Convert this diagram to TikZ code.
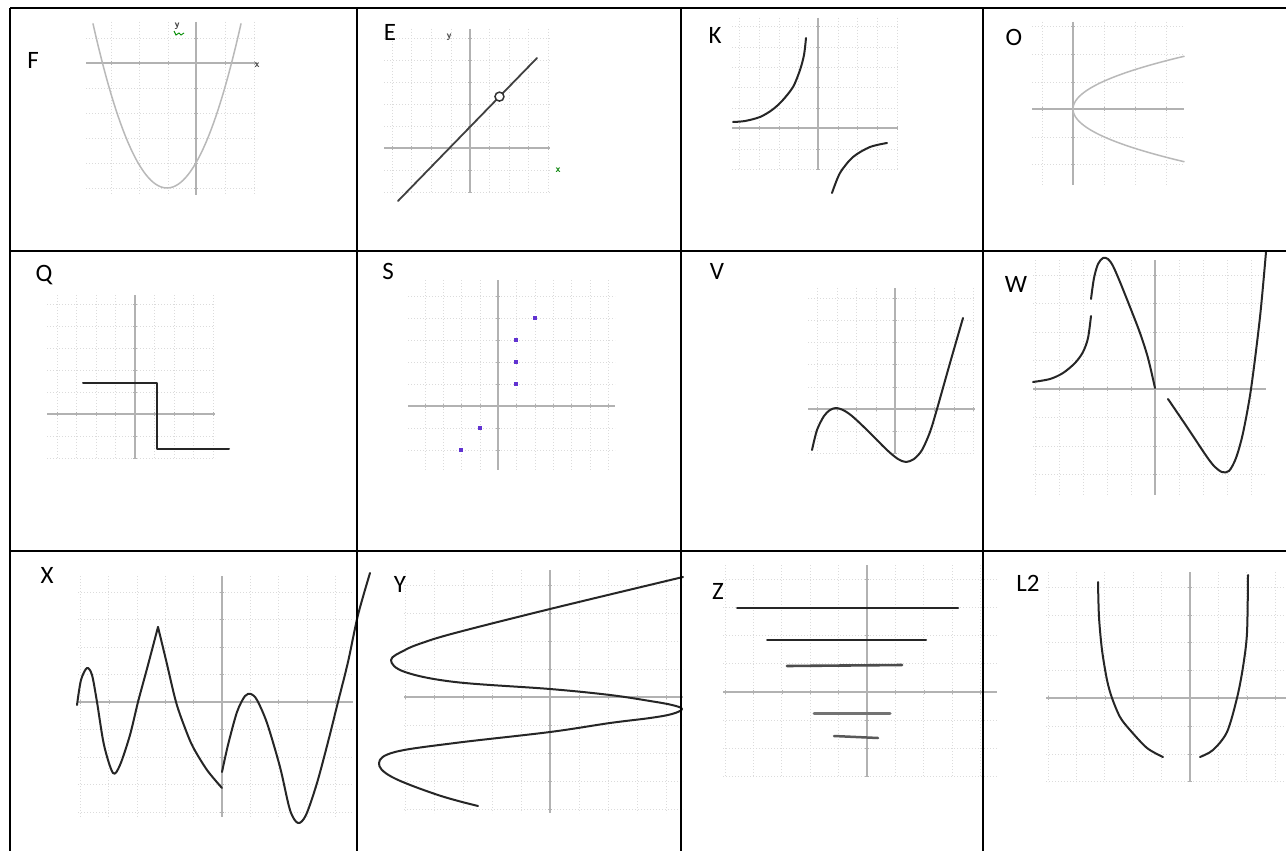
\documentclass[tikz,border=0pt]{standalone}
\usepackage{fontspec}
\newfontfamily\lblfont{Carlito}
\usetikzlibrary{calc}
\newcommand\cellgraph[8]{%
  \foreach \gx in {#7} \draw[gridl] (\gx,#3) -- (\gx,#4);
  \foreach \gy in {#8} \draw[gridl] (#1,\gy) -- (#2,\gy);
  \draw[axisl] (#1,#6) -- (#2,#6);
  \draw[axisl] (#5,#3) -- (#5,#4);
  \foreach \gx in {#7} \draw[tickl] (\gx,{#6-1.8}) -- (\gx,{#6+1.8});
  \foreach \gy in {#8} \draw[tickl] ({#5-1.8},\gy) -- ({#5+1.8},\gy);}
\begin{document}
\begin{tikzpicture}[x=1pt,y=-1pt,
 gridl/.style={gray!28, line width=0.7pt, dash pattern=on 1.2pt off 1.8pt},
 axisl/.style={gray!60, line width=1.1pt},
 tickl/.style={gray!60, line width=0.6pt},
 curve/.style={black!85, line width=2pt, line cap=round, line join=round},
 lightcurve/.style={gray!55, line width=1.5pt, line cap=round},
 tbl/.style={black, line width=2.5pt},
 lbl/.style={font=\lblfont\fontsize{25}{30}\selectfont, inner sep=0pt, text=black},
 axlbl/.style={font=\sffamily\bfseries\fontsize{10}{12}\selectfont, inner sep=0pt},
 dotpt/.style={fill=blue!55!violet!80, minimum size=3.5pt, inner sep=0pt, draw=none, rectangle}]
\useasboundingbox (0,0) rectangle (1286,851);
\fill[white] (0,0) rectangle (1286,851);

% ---------- grids ----------
\cellgraph{86}{257}{22}{195}{196}{63}{111,139,168,225,254}{38,88,113,138,163,188}
\cellgraph{384}{550}{29}{193}{470}{148}{392,411,431,451,489,509,528,548}{38,60,82,104,126,170,192}
\cellgraph{732}{898}{18}{170}{818}{128}{739,759,779,798,838,857,877,897}{26,47,67,87,108,149,169}
\cellgraph{1032}{1184}{22}{185}{1073}{109}{1042,1104,1135,1166}{26,54,82,137,164}
\cellgraph{47}{215}{295}{458}{135}{414}{57,76.5,96,115.5,154.5,174,193.5,213}{304,326,348,370,392,436,458}
\cellgraph{408}{615}{280}{470}{498}{406}{425,443,461,480,516,535,553,571,590,608}{296,318,340,362,384,428,450}
\cellgraph{808}{975}{288}{453}{895}{409}{817,837,856,876,915,934,954,973}{298,320,342,364,387,431,453}
\cellgraph{1033}{1266}{260}{495}{1155}{389}{1035,1059,1083,1107,1131,1179,1203,1227,1251}{275,303.5,332,360.5,417.5,446,474.5}
\cellgraph{78}{353}{576}{817}{222}{702}{80.5,108.8,137,165.4,193.7,250.3,278.6,307,335}{592,619.5,647,674.5,729.5,757,784.5,812}
\cellgraph{404}{683}{570}{813}{550}{697}{405,434,463,492,521,579,608,637,666}{585,613,641,669,725,753,781,809}
\cellgraph{723}{997}{565}{777}{867}{692}{725,753.4,781.8,810.2,838.6,895.4,923.8,952.2,980.6}{579.2,607.4,635.6,663.8,720.2,748.4,776.6}
\cellgraph{1046}{1286}{572}{782}{1190}{698}{1048,1076.4,1104.8,1133.2,1161.6,1218.4,1246.8,1275.2}{587,615,642,670,726,754,781}

% ---------- F ----------
\draw[lightcurve] plot[domain=93:241, samples=60] (\x, {188-0.03*(\x-167)^2});
\node[axlbl, text=black!75] (Fy) at (177,26) {y};
\draw[green!55!black, line width=0.9pt] (174,31) -- (176,35) -- (179,33) -- (181,35) -- (184,33);
\node[axlbl, text=black!75] (Fx) at (257,65) {x};

% ---------- E ----------
\coordinate (ea) at (398,201);
\coordinate (eb) at (537,58);
\draw[curve, line width=1.8pt, black!75] (ea) -- (eb);
\node[circle, draw=black!80, fill=white, line width=1.5pt, minimum size=9pt, inner sep=0pt] (hole) at ($(ea)!0.73!(eb)$) {};
\node[axlbl, text=black!70] (Ey) at (449,37) {y};
\node[axlbl, text=green!50!black] (Ex) at (558,170) {x};

% ---------- K ----------
\draw[curve] plot[smooth] coordinates {(733,122) (745,121) (760,117) (772,110) (782,101) (793,87) (800,70) (804,55) (806,38)};
\draw[curve] plot[smooth] coordinates {(832,193) (840,173) (853,157) (870,147) (887,143)};

% ---------- O ----------
\draw[lightcurve] plot[domain=-10.54:10.54, samples=80] ({1073+\x*\x}, {109+5*\x});

% ---------- Q ----------
\draw[curve] (83,383) -- (157,383) -- (157,449) -- (229,449);

% ---------- S ----------
\node[dotpt] (s1) at (535,318) {};
\node[dotpt] (s2) at (516,340) {};
\node[dotpt] (s3) at (516,362) {};
\node[dotpt] (s4) at (516,384) {};
\node[dotpt] (s5) at (480,428) {};
\node[dotpt] (s6) at (461,450) {};

% ---------- V ----------
\draw[curve] plot[smooth] coordinates {(812,450) (817,430) (824,416) (830,410) (836,408) (843,410) (852,416) (867,430) (887,450) (898,459) (906,462) (914,459) (922,450) (930,432) (937,409) (950,363) (963,318)};

% ---------- W ----------
\draw[curve] plot[smooth] coordinates {(1033,382) (1050,379) (1063,373) (1075,363) (1083,352) (1088,338) (1091,316)};
\draw[curve] plot[smooth] coordinates {(1091,299) (1094,278) (1098,264) (1103,258) (1108,259) (1113,266) (1120,282) (1130,307) (1140,333) (1148,358) (1155,388)};
\draw[curve] plot[smooth] coordinates {(1168,399) (1187,427) (1207,457) (1215,467) (1222,472) (1229,471) (1236,458) (1243,433) (1251,389) (1260,317) (1266,252)};

% ---------- X ----------
\draw[curve] plot[smooth] coordinates {(77,705) (81,680) (87,668) (92,675) (97,702) (104,745) (113,773) (120,765) (130,735) (138,702) (148,665) (158,627)};
\draw[curve] plot[smooth] coordinates {(158,627) (166,660) (176,702) (185,728) (193,747) (207,770) (222,788)};
\draw[curve] plot[smooth] coordinates {(222,772) (228,745) (237,712) (245,696) (251,694) (257,700) (267,723) (280,767) (290,810) (298,823) (306,815) (317,783) (328,742) (338,702) (348,662) (358,615) (370,573)};

% ---------- Y ----------
\draw[curve] plot[smooth, tension=0.6] coordinates {(683,577) (550,609) (455,633) (422,643) (405,650) (391,660) (405,672) (455,682) (550,689) (610,695) (650,701) (672,705) (682,709) (672,714) (650,718) (610,723) (550,732) (455,743) (395,752) (379,763) (392,777) (438,795) (478,806)};

% ---------- Z ----------
\draw[curve] (737,608) -- (958,608);
\draw[curve] (767,640) -- (926,640);
\draw[curve, black!70, line width=2.6pt] (787,666) -- (902,665);
\draw[curve, black!55, line width=3pt] (814,713) -- (890,713);
\draw[curve, black!65, line width=2.5pt] (834,736) -- (878,738);

% ---------- L2 ----------
\draw[curve] plot[smooth] coordinates {(1098,582) (1099,617) (1102,650) (1107,680) (1112,698) (1120,717) (1130,730) (1147,748) (1163,757)};
\draw[curve] plot[smooth] coordinates {(1200,757) (1213,750) (1227,732) (1237,698) (1243,667) (1247,633) (1248,575)};

% ---------- labels ----------
\node[lbl] (lF) at (33,60) {F};
\node[lbl] (lE) at (390,32) {E};
\node[lbl] (lK) at (715,35) {K};
\node[lbl] (lO) at (1014,37) {O};
\node[lbl] (lQ) at (44,275) {Q};
\node[lbl] (lS) at (388,271) {S};
\node[lbl] (lV) at (717,271) {V};
\node[lbl] (lW) at (1016,284) {W};
\node[lbl] (lX) at (47,575) {X};
\node[lbl] (lY) at (400,584) {Y};
\node[lbl] (lZ) at (718,591) {Z};
\node[lbl] (lL) at (1028,583) {L2};

% ---------- table ----------
\draw[tbl] (10,8) -- (1286,8);
\draw[tbl] (10,251) -- (1286,251);
\draw[tbl] (10,551) -- (1286,551);
\draw[tbl] (10,8) -- (10,851);
\draw[tbl] (357,8) -- (357,851);
\draw[tbl] (681,8) -- (681,851);
\draw[tbl] (983,8) -- (983,851);
\end{tikzpicture}
\end{document}
